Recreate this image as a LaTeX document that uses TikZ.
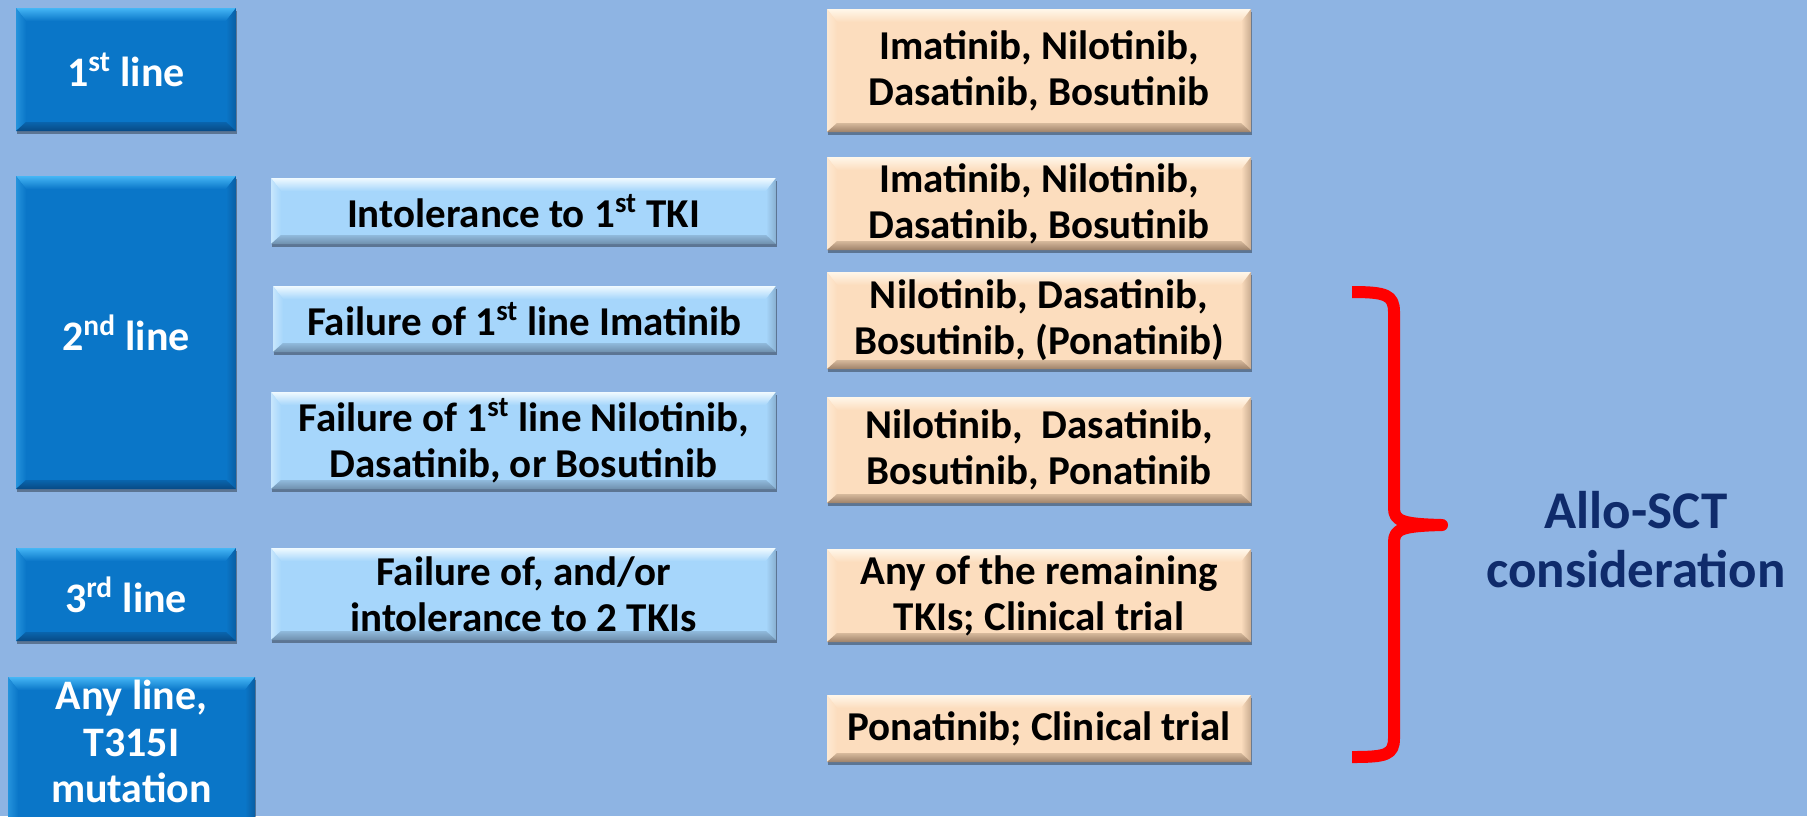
\documentclass[tikz,border=0pt]{standalone}
\usepackage{fontspec}
\setmainfont{Carlito}
\usetikzlibrary{shadows}
\definecolor{bgc}{HTML}{8EB4E3}
\definecolor{dkb}{HTML}{0A76C8}
\definecolor{dkbhi}{HTML}{45B6F5}
\definecolor{dkblo}{HTML}{084A85}
\definecolor{ltb}{HTML}{A6D6FB}
\definecolor{ltbhi}{HTML}{F0FAFF}
\definecolor{ltblo}{HTML}{6F8FAD}
\definecolor{pch}{HTML}{FCDDBE}
\definecolor{pchhi}{HTML}{FFF7EA}
\definecolor{pchlo}{HTML}{9E8269}
\definecolor{navy}{HTML}{0F2B6B}
\definecolor{bracered}{HTML}{FF0000}
\tikzset{
  bevel/.style n args={3}{fill=#1, inner sep=0pt, align=center, anchor=center,
    drop shadow={shadow xshift=0.6pt, shadow yshift=-1.6pt, opacity=0.35, fill=black},
    path picture={
      \coordinate (bNW) at (path picture bounding box.north west);
      \coordinate (bNE) at (path picture bounding box.north east);
      \coordinate (bSW) at (path picture bounding box.south west);
      \coordinate (bSE) at (path picture bounding box.south east);
      \shade[top color=#2, bottom color=#1] (bNW) -- (bNE) -- ([xshift=-5pt,yshift=-6.5pt]bNE) -- ([xshift=5pt,yshift=-6.5pt]bNW) -- cycle;
      \shade[left color=#2!45!#1, right color=#1] (bNW) -- ([xshift=5pt,yshift=-6.5pt]bNW) -- ([xshift=5pt,yshift=4.5pt]bSW) -- (bSW) -- cycle;
      \shade[left color=#1, right color=#3!55!#1] (bNE) -- (bSE) -- ([xshift=-5pt,yshift=4.5pt]bSE) -- ([xshift=-5pt,yshift=-6.5pt]bNE) -- cycle;
      \shade[top color=#1!60!#3, bottom color=#3] (bSW) -- ([xshift=5pt,yshift=4.5pt]bSW) -- ([xshift=-5pt,yshift=4.5pt]bSE) -- (bSE) -- cycle;
    }},
  linebox/.style={bevel={dkb}{dkbhi}{dkblo}, text=white, font=\fontsize{21}{23.2}\selectfont\bfseries},
  condbox/.style={bevel={ltb}{ltbhi}{ltblo}, text=black, font=\fontsize{20.5}{23}\selectfont\bfseries},
  drugbox/.style={bevel={pch}{pchhi}{pchlo}, text=black, font=\fontsize{20.5}{23}\selectfont\bfseries},
  bracestroke/.style={draw=bracered, line width=6pt, line join=round, line cap=butt},
  allotext/.style={text=navy, align=center, font=\fontsize{26.5}{29.5}\selectfont\bfseries}
}
\begin{document}
\begin{tikzpicture}[x=0.5pt,y=-0.5pt]
\clip (0,0) rectangle (1807,816);
\fill[bgc] (0,0) rectangle (1807,816);
% left column
\node[linebox, minimum width=110pt, minimum height=61.5pt] (l1) at (126,69.5) {1\textsuperscript{st} line};
\node[linebox, minimum width=110pt, minimum height=156.5pt] (l2) at (126,332.5) {2\textsuperscript{nd} line};
\node[linebox, minimum width=110pt, minimum height=46.5pt] (l3) at (126,594.5) {3\textsuperscript{rd} line};
\node[linebox, minimum width=123.5pt, minimum height=76pt] (l4) at (131.5,753)
  {\raisebox{3pt}[\height][\depth]{\begin{tabular}{@{}c@{}}Any line,\\T315I\\mutation\end{tabular}}};
% middle column
\node[condbox, minimum width=252.5pt, minimum height=33pt] (m1) at (523.5,211) {Intolerance to 1\textsuperscript{st} TKI};
\node[condbox, minimum width=251.5pt, minimum height=33pt] (m2) at (524.5,319) {Failure of 1\textsuperscript{st} line Imatinib};
\node[condbox, minimum width=252.5pt, minimum height=48.5pt] (m3) at (523.5,440.5) {Failure of 1\textsuperscript{st} line Nilotinib,\\Dasatinib, or Bosutinib};
\node[condbox, minimum width=252.5pt, minimum height=46pt] (m4) at (523.5,594) {Failure of, and/or\\intolerance to 2 TKIs};
% right column
\node[drugbox, minimum width=212pt, minimum height=61.5pt] (r1) at (1039,70.5) {Imatinib, Nilotinib,\\Dasatinib, Bosutinib};
\node[drugbox, minimum width=212pt, minimum height=46.5pt] (r2) at (1039,203.5) {Imatinib, Nilotinib,\\Dasatinib, Bosutinib};
\node[drugbox, minimum width=212pt, minimum height=48.5pt] (r3) at (1039,320.5) {Nilotinib, Dasatinib,\\Bosutinib, (Ponatinib)};
\node[drugbox, minimum width=212pt, minimum height=53pt] (r4) at (1039,450) {Nilotinib,\ \ Dasatinib,\\Bosutinib, Ponatinib};
\node[drugbox, minimum width=212pt, minimum height=46.5pt] (r5) at (1039,595.5) {Any of the remaining\\TKIs; Clinical trial};
\node[drugbox, minimum width=212pt, minimum height=33.5pt] (r6) at (1039,728.5) {Ponatinib; Clinical trial};
% brace
\coordinate (btop) at (1352,292);
\coordinate (btip) at (1442,525);
\coordinate (bbot) at (1352,757);
\draw[bracestroke] (btop) .. controls (1386,292) and (1394,295) .. (1394,312) -- (1394,508)
  .. controls (1394,521) and (1402,524) .. (btip)
  .. controls (1402,526) and (1394,529) .. (1394,542) -- (1394,738)
  .. controls (1394,755) and (1386,757) .. (bbot);
% consideration text
\node[allotext] (allo) at (1636,540) {Allo-SCT\\consideration};
\end{tikzpicture}
\end{document}
